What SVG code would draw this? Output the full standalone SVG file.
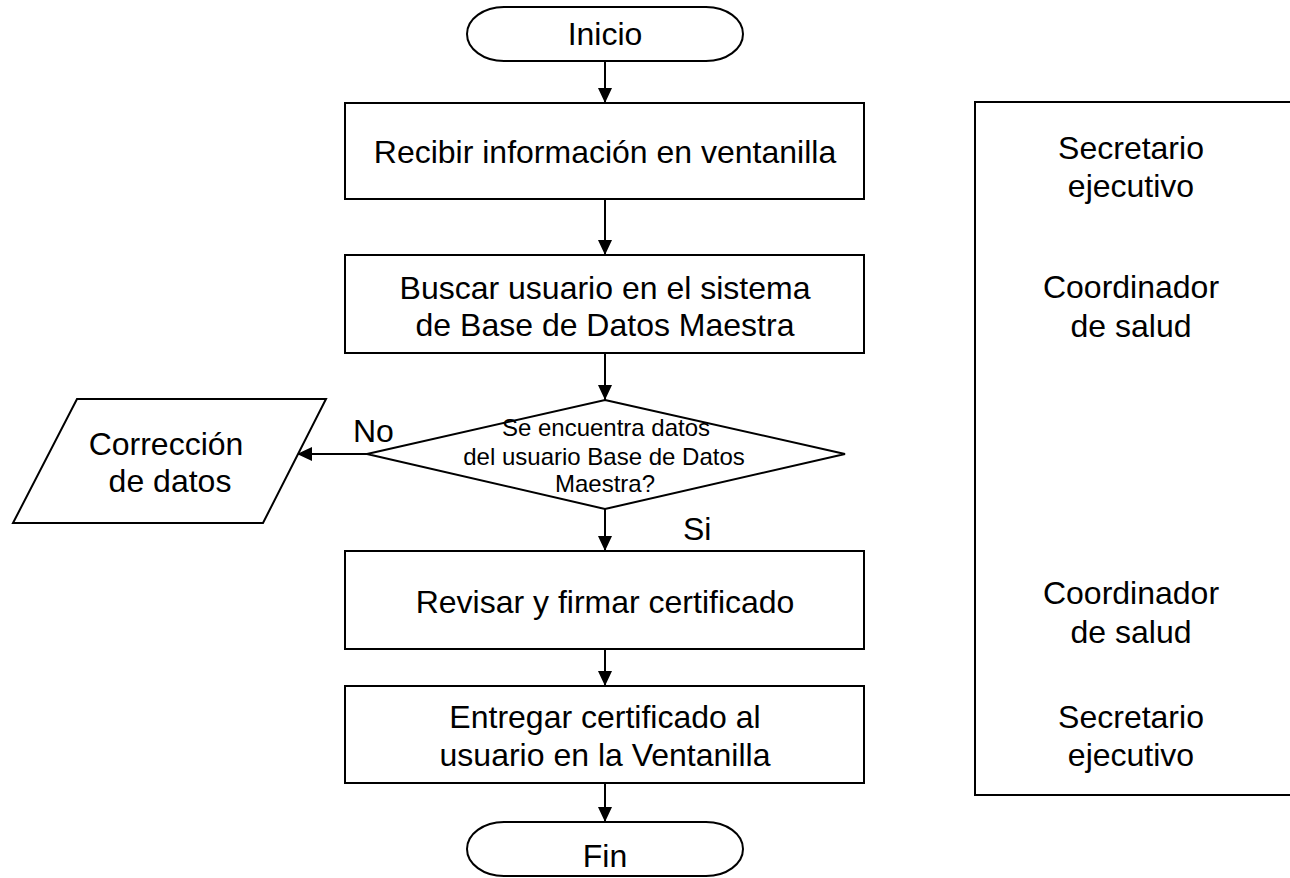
<svg xmlns="http://www.w3.org/2000/svg" width="1290" height="878" viewBox="0 0 1290 878">
<style>
.s{fill:#fff;stroke:#000;stroke-width:2}
.t{font-family:"Liberation Sans",Arial,sans-serif;font-size:32px;fill:#000;text-anchor:middle}
.d{font-family:"Liberation Sans",Arial,sans-serif;font-size:24px;fill:#000;text-anchor:middle}
.l{font-family:"Liberation Sans",Arial,sans-serif;font-size:32px;fill:#000}
.c{fill:none;stroke:#000;stroke-width:2}
</style>
<defs>
<marker id="ah" markerUnits="userSpaceOnUse" markerWidth="16" markerHeight="16" refX="15" refY="7" orient="auto">
<path d="M0,0 L15,7 L0,14 Z" fill="#000"/>
</marker>
</defs>
<rect width="1290" height="878" fill="#fff"/>
<g id="connectors">
<line class="c" x1="605" y1="61" x2="605" y2="103" marker-end="url(#ah)"/>
<line class="c" x1="605" y1="199" x2="605" y2="255" marker-end="url(#ah)"/>
<line class="c" x1="605" y1="353" x2="605" y2="400" marker-end="url(#ah)"/>
<line class="c" x1="367" y1="454" x2="297" y2="454" marker-end="url(#ah)"/>
<line class="c" x1="605" y1="509" x2="605" y2="551" marker-end="url(#ah)"/>
<line class="c" x1="605" y1="649" x2="605" y2="686" marker-end="url(#ah)"/>
<line class="c" x1="605" y1="783" x2="605" y2="822" marker-end="url(#ah)"/>
<text class="l" x="353" y="442">No</text>
<text class="l" x="683" y="540">Si</text>
</g>
<g id="inicio">
<path class="s" d="M504,7 H706 A37,27 0 0 1 706,61 H504 A37,27 0 0 1 504,7 Z"/>
<text class="t" x="605" y="45">Inicio</text>
</g>
<g id="recibir">
<rect class="s" x="345" y="103" width="519" height="96"/>
<text class="t" x="605" y="163">Recibir información en ventanilla</text>
</g>
<g id="buscar">
<rect class="s" x="345" y="255" width="519" height="98"/>
<text class="t" x="605" y="299">Buscar usuario en el sistema</text>
<text class="t" x="605" y="336">de Base de Datos Maestra</text>
</g>
<g id="decision">
<polygon class="s" points="605,400 845,454 605,509 367,454"/>
<text class="d" x="606" y="436">Se encuentra datos</text>
<text class="d" x="604" y="465">del usuario Base de Datos</text>
<text class="d" x="605" y="492">Maestra?</text>
</g>
<g id="correccion">
<polygon class="s" points="77,399 326,399 263,523 13,523"/>
<text class="t" x="166" y="455">Corrección</text>
<text class="t" x="170" y="492">de datos</text>
</g>
<g id="revisar">
<rect class="s" x="345" y="551" width="519" height="98"/>
<text class="t" x="605" y="613">Revisar y firmar certificado</text>
</g>
<g id="entregar">
<rect class="s" x="345" y="686" width="519" height="97"/>
<text class="t" x="605" y="728">Entregar certificado al</text>
<text class="t" x="605" y="766">usuario en la Ventanilla</text>
</g>
<g id="fin">
<path class="s" d="M504,822 H706 A37,27 0 0 1 706,876 H504 A37,27 0 0 1 504,822 Z"/>
<text class="t" x="605" y="867">Fin</text>
</g>
<g id="responsables">
<rect class="s" x="975" y="102" width="330" height="693"/>
<text class="t" x="1131" y="159">Secretario</text>
<text class="t" x="1131" y="197">ejecutivo</text>
<text class="t" x="1131" y="298">Coordinador</text>
<text class="t" x="1131" y="337">de salud</text>
<text class="t" x="1131" y="604">Coordinador</text>
<text class="t" x="1131" y="643">de salud</text>
<text class="t" x="1131" y="728">Secretario</text>
<text class="t" x="1131" y="766">ejecutivo</text>
</g>
</svg>
